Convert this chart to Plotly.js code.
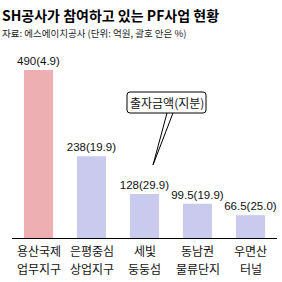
<!DOCTYPE html>
<html><head><meta charset="utf-8">
<script src="https://cdn.plot.ly/plotly-3.0.1.min.js"></script>
<style>html,body{margin:0;padding:0;background:#fff}#c{width:282px;height:282px}</style>
</head><body><div id="c"></div>
<script>
const categoryLine1 = ['용산국제', '은평중심', '세빛', '동남권', '우면산'];
const categoryLine2 = ['업무지구', '상업지구', '둥둥섬', '물류단지', '터널'];
const amounts = [490, 238, 128, 99.5, 66.5];
const shares = ['4.9', '19.9', '29.9', '19.9', '25.0'];
const amountLabels = ['490', '238', '128', '99.5', '66.5'];
const barColors = ['#edafb1', '#c9caee', '#c9caee', '#c9caee', '#c9caee'];

const categories = categoryLine1.map((a, i) => a + ' ' + categoryLine2[i]);
const labels = amountLabels.map((a, i) => a + '(' + shares[i] + ')');
const numFont = "'Liberation Sans', Arial, sans-serif";
const krFont = "'Noto Sans CJK KR', sans-serif";

const trace = {
  type: 'bar',
  x: categories,
  y: amounts,
  marker: {color: barColors, line: {width: 0}},
  text: labels,
  textposition: 'outside',
  constraintext: 'none',
  cliponaxis: false,
  textfont: {family: numFont, size: 11.5, color: '#111'},
  hoverinfo: 'none'
};

// pixel -> paper helpers for the callout decoration
const px = v => (v - 12) / 265;
const py = v => (238 - v) / 188;

const annotations = [
  {xref: 'paper', yref: 'paper', x: px(0), y: py(15), xanchor: 'left', yanchor: 'middle',
   text: '<b>SH공사가 참여하고 있는 PF사업 현황</b>', showarrow: false,
   font: {family: krFont, size: 14, color: '#000'}},
  {xref: 'paper', yref: 'paper', x: px(0), y: py(33), xanchor: 'left', yanchor: 'middle',
   text: '자료: 에스에이치공사 (단위: 억원, 괄호 안은 %)', showarrow: false,
   font: {family: krFont, size: 9.5, color: '#222'}},
  {xref: 'paper', yref: 'paper', x: px(166.5), y: py(102.5),
   xanchor: 'center', yanchor: 'middle',
   text: '출자금액(지분)', showarrow: false,
   font: {family: krFont, size: 12, color: '#111'}}
];
categories.forEach((c, i) => {
  annotations.push({xref: 'x', yref: 'paper', x: c, y: -12/188, xanchor: 'center', yanchor: 'middle',
    text: categoryLine1[i], showarrow: false, font: {family: krFont, size: 12, color: '#111'}});
  annotations.push({xref: 'x', yref: 'paper', x: c, y: -30/188, xanchor: 'center', yanchor: 'middle',
    text: categoryLine2[i], showarrow: false, font: {family: krFont, size: 12, color: '#111'}});
});

const bx0 = 127, bx1 = 206, by0 = 92, by1 = 113, r = 3;
const boxPath =
  'M ' + px(bx0 + r) + ' ' + py(by0) +
  ' L ' + px(bx1 - r) + ' ' + py(by0) +
  ' Q ' + px(bx1) + ' ' + py(by0) + ' ' + px(bx1) + ' ' + py(by0 + r) +
  ' L ' + px(bx1) + ' ' + py(by1 - r) +
  ' Q ' + px(bx1) + ' ' + py(by1) + ' ' + px(bx1 - r) + ' ' + py(by1) +
  ' L ' + px(bx0 + r) + ' ' + py(by1) +
  ' Q ' + px(bx0) + ' ' + py(by1) + ' ' + px(bx0) + ' ' + py(by1 - r) +
  ' L ' + px(bx0) + ' ' + py(by0 + r) +
  ' Q ' + px(bx0) + ' ' + py(by0) + ' ' + px(bx0 + r) + ' ' + py(by0) + ' Z';

const layout = {
  width: 282, height: 282,
  margin: {l: 12, r: 5, t: 50, b: 44},
  paper_bgcolor: '#fff', plot_bgcolor: '#fff',
  showlegend: false,
  bargap: 0.45,
  xaxis: {
    showgrid: false, zeroline: false, showline: true, linecolor: '#000', linewidth: 1,
    ticks: '', showticklabels: false,
    range: [-0.5, 4.5], fixedrange: true
  },
  yaxis: {visible: false, range: [0, 548], fixedrange: true},
  annotations: annotations,
  shapes: [
    {type: 'path', xref: 'paper', yref: 'paper', path: boxPath,
     line: {color: '#000', width: 1}, fillcolor: '#fff'},
    {type: 'path', xref: 'paper', yref: 'paper',
     path: 'M ' + px(167) + ' ' + py(113) + ' L ' + px(153) + ' ' + py(165) + ' L ' + px(173) + ' ' + py(113),
     line: {color: '#000', width: 1}}
  ]
};

Plotly.newPlot('c', [trace], layout, {displayModeBar: false, staticPlot: true});
</script>
</body></html>
